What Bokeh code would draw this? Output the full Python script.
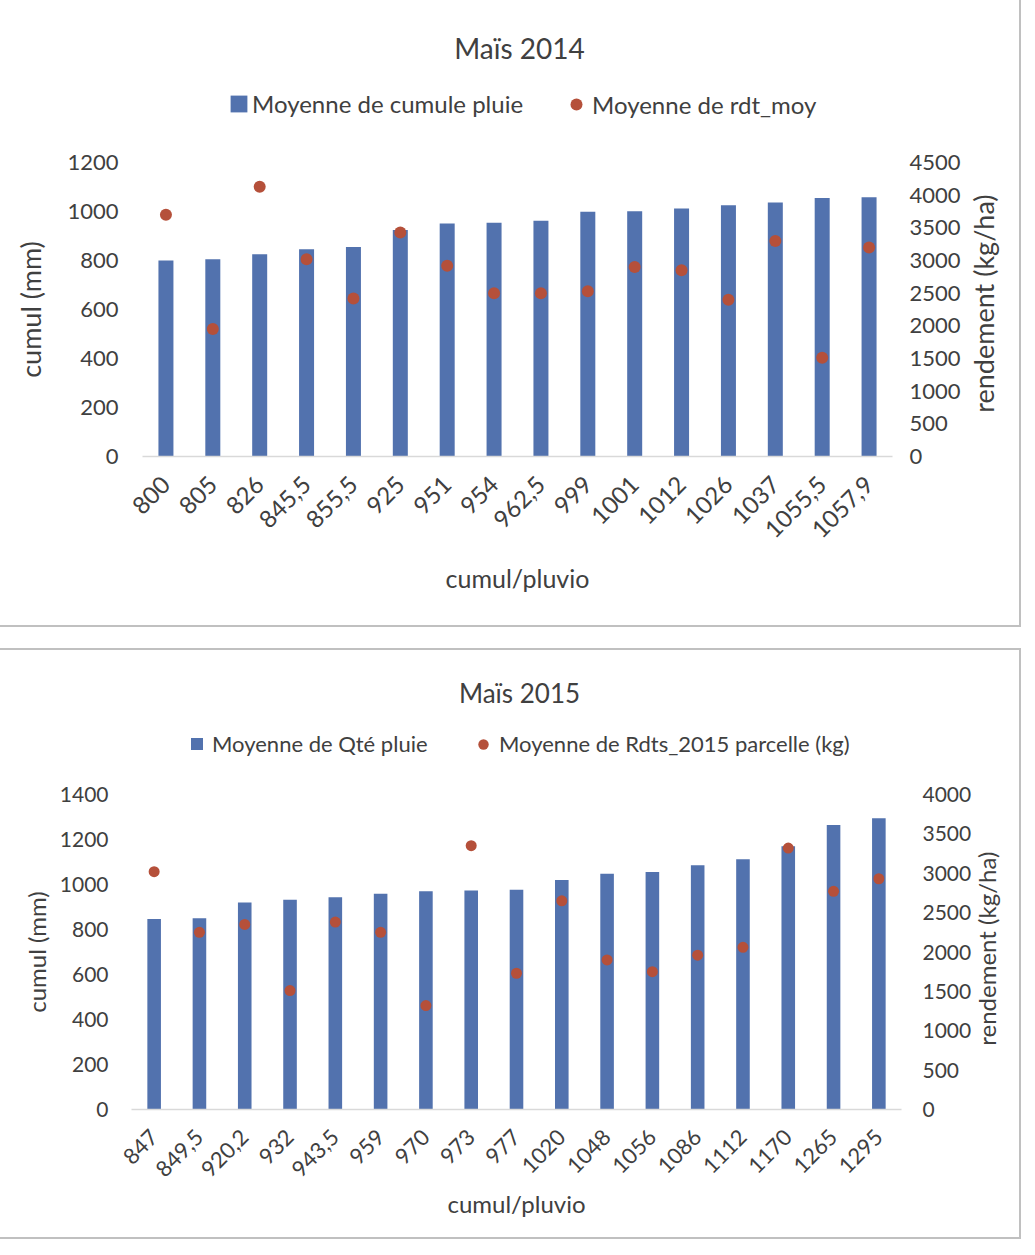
import math
from bokeh.plotting import figure
from bokeh.models import (FactorRange, Range1d, LinearAxis, FixedTicker, Legend,
                          LegendItem, Label, ColumnDataSource)
from bokeh.layouts import column
from bokeh.embed import file_html
from bokeh.resources import INLINE

# ---------------- data ----------------
cats_2014 = ["800", "805", "826", "845,5", "855,5", "925", "951", "954", "962,5",
             "999", "1001", "1012", "1026", "1037", "1055,5", "1057,9"]
pluie_2014 = [800, 805, 826, 845.5, 855.5, 925, 951, 954, 962.5,
              999, 1001, 1012, 1026, 1037, 1055.5, 1057.9]
rdt_2014 = [3700, 1950, 4130, 3020, 2420, 3430, 2920, 2500, 2500,
            2530, 2900, 2850, 2400, 3300, 1510, 3200]

cats_2015 = ["847", "849,5", "920,2", "932", "943,5", "959", "970", "973", "977",
             "1020", "1048", "1056", "1086", "1112", "1170", "1265", "1295"]
pluie_2015 = [847, 849.5, 920.2, 932, 943.5, 959, 970, 973, 977,
              1020, 1048, 1056, 1086, 1112, 1170, 1265, 1295]
rdt_2015 = [3020, 2250, 2350, 1510, 2380, 2250, 1320, 3350, 1730,
            2650, 1900, 1750, 1960, 2060, 3320, 2770, 2930]

left_ticks_2014 = [0, 200, 400, 600, 800, 1000, 1200]
right_ticks_2014 = [0, 500, 1000, 1500, 2000, 2500, 3000, 3500, 4000, 4500]
left_ticks_2015 = [0, 200, 400, 600, 800, 1000, 1200, 1400]
right_ticks_2015 = [0, 500, 1000, 1500, 2000, 2500, 3000, 3500, 4000]

FONT = "Lato"
TXT = "#404040"
BAR = "#5272ae"
DOT = "#b5503a"
W = 1019


def make_header(src, cats, title, leg_bar, leg_dot, c):
    # Header strip holding the chart title and the legend. The series are
    # attached (hidden) only so that the legend can draw their swatches.
    h = figure(width=W, height=c["hh"], x_range=FactorRange(factors=cats),
               y_range=Range1d(0, 1), output_backend="svg", toolbar_location=None,
               title=None, x_axis_location=None, y_axis_location=None, min_border=0)
    h.xgrid.grid_line_color = None
    h.ygrid.grid_line_color = None
    h.outline_line_color = None
    rb = h.vbar(x="cat", top="pluie", width=0.3, source=src, fill_color=BAR,
                line_color=None, visible=False)
    rd = h.scatter(x="cat", y="rdt", source=src, fill_color=DOT, line_color=None,
                   visible=False)
    h.add_layout(Label(x=c["t_x"], y=c["t_y"], x_units="screen", y_units="screen",
                       text=title, text_align="center", text_baseline="middle",
                       text_font=FONT, text_font_size=c["t_fs"], text_color=TXT))
    common = dict(orientation="horizontal", padding=0, margin=0,
                  border_line_color=None, background_fill_alpha=0,
                  inactive_fill_alpha=0,
                  label_text_font=FONT, label_text_font_size=c["leg_fs"],
                  label_text_color=TXT, label_text_baseline="middle")
    lb = Legend(items=[LegendItem(label=leg_bar, renderers=[rb])], location=c["lb_loc"],
                glyph_width=c["lb_g"], glyph_height=c["lb_g"], label_height=c["lb_g"],
                label_standoff=c["lb_s"], **common)
    ld = Legend(items=[LegendItem(label=leg_dot, renderers=[rd])], location=c["ld_loc"],
                glyph_width=c["ld_g"], glyph_height=c["ld_g"], label_height=c["ld_g"],
                label_standoff=c["ld_s"], **common)
    h.add_layout(lb)
    h.add_layout(ld)
    return h


def no_ticks(ax):
    ax.major_tick_line_color = None
    ax.minor_tick_line_color = None
    ax.major_tick_out = 0
    ax.major_tick_in = 0
    ax.minor_tick_out = 0
    ax.minor_tick_in = 0


def make_chart(src, cats, lticks, rticks, c):
    p = figure(width=W, height=c["h"], x_range=FactorRange(factors=cats),
               y_range=Range1d(0, lticks[-1]), output_backend="svg",
               toolbar_location=None, title=None,
               min_border_left=c["mbl"], min_border_right=c["mbr"],
               min_border_top=c["mbt"], min_border_bottom=c["mbb"])
    p.outline_line_color = None
    p.xgrid.grid_line_color = None
    p.ygrid.grid_line_color = None
    p.extra_y_ranges = {"rdt": Range1d(0, rticks[-1])}

    p.vbar(x="cat", top="pluie", width=c["bw"], source=src,
           fill_color=BAR, line_color=None)
    p.scatter(x="cat", y="rdt", y_range_name="rdt", size=c["ds"],
              fill_color=DOT, line_color=None, source=src)

    # left axis
    ya = p.yaxis[0]
    ya.ticker = FixedTicker(ticks=lticks)
    ya.axis_line_color = None
    no_ticks(ya)
    ya.major_label_standoff = c["lstand"]
    ya.major_label_text_font = FONT
    ya.major_label_text_font_size = c["tick_fs"]
    ya.major_label_text_color = TXT
    ya.axis_label = "cumul (mm)"
    ya.axis_label_text_font = FONT
    ya.axis_label_text_font_size = c["ax_fs"]
    ya.axis_label_text_font_style = "normal"
    ya.axis_label_text_color = TXT
    ya.axis_label_standoff = c["lab_stand"]

    # bottom axis
    xa = p.xaxis[0]
    xa.axis_line_color = "#d9d9d9"
    xa.axis_line_width = 1.5
    no_ticks(xa)
    xa.major_label_orientation = math.pi / 4
    xa.major_label_standoff = c["xl_stand"]
    xa.major_label_text_font = FONT
    xa.major_label_text_font_size = c["xtick_fs"]
    xa.major_label_text_color = TXT
    xa.axis_label = "cumul/pluvio"
    xa.axis_label_text_font = FONT
    xa.axis_label_text_font_size = c["xax_fs"]
    xa.axis_label_text_font_style = "normal"
    xa.axis_label_text_color = TXT
    xa.axis_label_standoff = c["xlab_stand"]

    # right axis (rendement)
    ra = LinearAxis(y_range_name="rdt", ticker=FixedTicker(ticks=rticks))
    ra.axis_line_color = None
    no_ticks(ra)
    ra.major_label_standoff = c["rstand"]
    ra.major_label_text_font = FONT
    ra.major_label_text_font_size = c["tick_fs"]
    ra.major_label_text_color = TXT
    p.add_layout(ra, "right")

    # right axis title, written bottom-up as in the original
    rv = c["rt_val"]
    rt = LinearAxis(y_range_name="rdt", ticker=FixedTicker(ticks=[rv]),
                    major_label_overrides={rv: "rendement (kg/ha)"})
    rt.axis_line_color = None
    no_ticks(rt)
    rt.major_label_orientation = math.pi / 2
    rt.major_label_standoff = c["rt_stand"]
    rt.major_label_text_font = FONT
    rt.major_label_text_font_size = c["ax_fs"]
    rt.major_label_text_color = TXT
    p.add_layout(rt, "right")
    return p


c1 = dict(hh=148, h=477, mbl=142, mbr=127, mbt=14, mbb=169, bw=0.32, ds=12,
          lstand=24, rstand=17, tick_fs="22px", ax_fs="27px", lab_stand=17,
          rt_val=670, rt_stand=20, xtick_fs="24px", xl_stand=24, xax_fs="25px",
          xlab_stand=14, t_x=377, t_y=101, t_fs="28px",
          lb_loc=(86, 30), lb_g=21, lb_s=3, ld_loc=(419, 29), ld_g=30, ld_s=1,
          leg_fs="24px")
c2 = dict(hh=130, h=457, mbl=131, mbr=118, mbt=14, mbb=128, bw=0.30, ds=11,
          lstand=23, rstand=21, tick_fs="21px", ax_fs="24px", lab_stand=6,
          rt_val=810, rt_stand=12, xtick_fs="22px", xl_stand=24, xax_fs="24px",
          xlab_stand=2, t_x=388, t_y=88, t_fs="26px",
          lb_loc=(58, 23), lb_g=15, lb_s=8, ld_loc=(339, 23), ld_g=26, ld_s=3,
          leg_fs="22px")

BOX = {"outline": "2px solid #c0c0c0"}

src1 = ColumnDataSource(dict(cat=cats_2014, pluie=pluie_2014, rdt=rdt_2014))
src2 = ColumnDataSource(dict(cat=cats_2015, pluie=pluie_2015, rdt=rdt_2015))

h1 = make_header(src1, cats_2014, "Maïs 2014", "Moyenne de cumule pluie", "Moyenne de rdt_moy", c1)
p1 = make_chart(src1, cats_2014, left_ticks_2014, right_ticks_2014, c1)
h2 = make_header(src2, cats_2015, "Maïs 2015", "Moyenne de Qté pluie",
                 "Moyenne de Rdts_2015 parcelle (kg)", c2)
p2 = make_chart(src2, cats_2015, left_ticks_2015, right_ticks_2015, c2)

block1 = column(h1, p1, spacing=0, styles=BOX)
block2 = column(h2, p2, spacing=0, styles=BOX)
layout = column(block1, block2, spacing=25)
open("out.html", "w").write(file_html(layout, INLINE))
